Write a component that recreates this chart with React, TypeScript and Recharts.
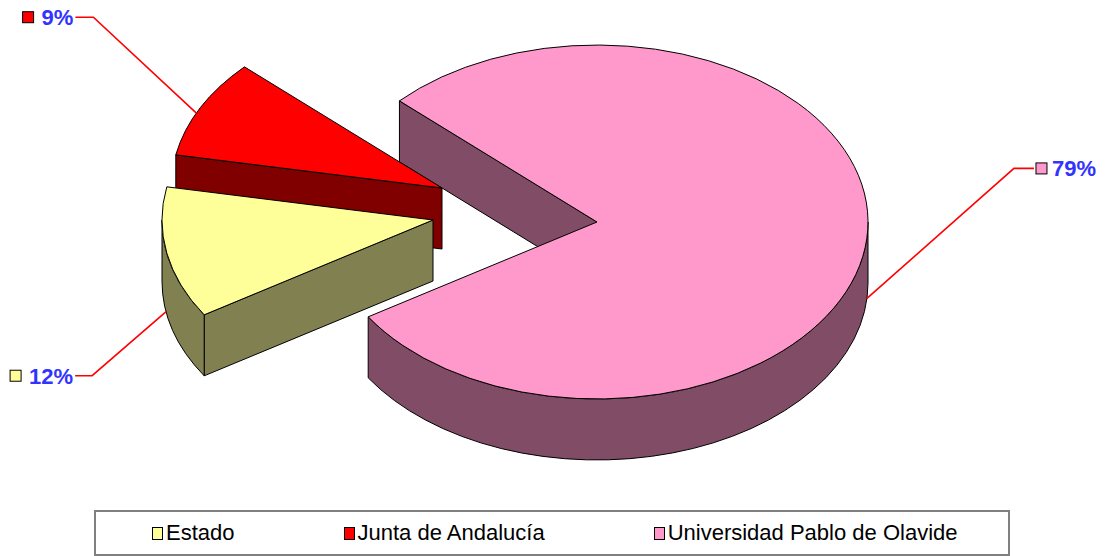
import React from 'react';
import { PieChart, Pie, Legend } from 'recharts';

// ---- data ----
const categories = ['Universidad Pablo de Olavide', 'Junta de Andalucía', 'Estado'];
const shares = [79, 9, 12];
const legendOrder = ['Estado', 'Junta de Andalucía', 'Universidad Pablo de Olavide'];

// ---- styles ----
const TOP_COLORS: Record<string, string> = {
  'Estado': '#FFFF99',
  'Junta de Andalucía': '#FF0000',
  'Universidad Pablo de Olavide': '#FF99CC',
};
const SIDE_COLORS: Record<string, string> = {
  'Estado': '#808050',
  'Junta de Andalucía': '#800000',
  'Universidad Pablo de Olavide': '#804C66',
};
// explode offsets of slices (px)
const EXPLODE: Record<string, [number, number]> = {
  'Estado': [-164, -2],
  'Junta de Andalucía': [-155, -34],
  'Universidad Pablo de Olavide': [0, 0],
};
// label leader config: anchor angle on slice, depth fraction, elbow offset, end offset, side
const LABELS: Record<string, { angle: number; depth: number; elbow: [number, number]; end: [number, number]; side: 'left' | 'right' }> = {
  'Estado': { angle: 190, depth: 1, elbow: [-74, 64], end: [-91, 64], side: 'left' },
  'Junta de Andalucía': { angle: 155, depth: 0, elbow: [-103, -96], end: [-121, -96], side: 'left' },
  'Universidad Pablo de Olavide': { angle: -5, depth: 1, elbow: [147, -130], end: [167, -130], side: 'right' },
};
const TILT = 0.653;
const DEPTH = 61;
const RAD = Math.PI / 180;
const FONT = "Arial, 'Liberation Sans', sans-serif";
const LABEL_SIZE = 22;

const data = categories.map((name, i) => ({ name, value: shares[i] }));

const geom = (props: any) => {
  const { cx, cy, outerRadius } = props;
  const name = props.name ?? props.payload?.name;
  const [dx, dy] = EXPLODE[name] || [0, 0];
  const ox = cx + dx;
  const oy = cy + dy;
  const R = outerRadius;
  const ry = R * TILT;
  const P = (deg: number, depth = 0): [number, number] => [
    ox + R * Math.cos(deg * RAD),
    oy - ry * Math.sin(deg * RAD) + depth,
  ];
  return { name, ox, oy, R, ry, P };
};

const fmt = (p: [number, number]) => `${p[0].toFixed(2)},${p[1].toFixed(2)}`;

const Slice3D = (props: any) => {
  const { startAngle, endAngle } = props;
  const { name, ox, oy, R, ry, P } = geom(props);
  const s = Math.min(startAngle, endAngle);
  const e = Math.max(startAngle, endAngle);
  const O: [number, number] = [ox, oy];
  const Od: [number, number] = [ox, oy + DEPTH];
  const faces: string[] = [];
  if (Math.cos(s * RAD) > 0) {
    faces.push(`M${fmt(O)} L${fmt(P(s))} L${fmt(P(s, DEPTH))} L${fmt(Od)} Z`);
  }
  if (Math.cos(e * RAD) < 0) {
    faces.push(`M${fmt(O)} L${fmt(P(e))} L${fmt(P(e, DEPTH))} L${fmt(Od)} Z`);
  }
  for (let n = -2; n <= 2; n++) {
    const a = Math.max(s, 180 + 360 * n);
    const b = Math.min(e, 360 + 360 * n);
    if (b > a) {
      faces.push(
        `M${fmt(P(a))} A${R},${ry} 0 0 0 ${fmt(P(b))} L${fmt(P(b, DEPTH))} A${R},${ry} 0 0 1 ${fmt(P(a, DEPTH))} Z`
      );
    }
  }
  const large = e - s > 180 ? 1 : 0;
  const top = `M${fmt(O)} L${fmt(P(s))} A${R},${ry} 0 ${large} 0 ${fmt(P(e))} Z`;
  const side = SIDE_COLORS[name];
  const topC = TOP_COLORS[name];
  return (
    <g>
      {faces.map((d, i) => (
        <path key={i} d={d} fill={side} stroke="#000" strokeWidth={1} strokeLinejoin="round" />
      ))}
      <path d={top} fill={topC} stroke="#000" strokeWidth={1} strokeLinejoin="round" />
    </g>
  );
};

const renderLabel = (props: any) => {
  const { name, P } = geom(props);
  const cfg = LABELS[name];
  if (!cfg) return null;
  const a = P(cfg.angle, cfg.depth * DEPTH);
  const el: [number, number] = [a[0] + cfg.elbow[0], a[1] + cfg.elbow[1]];
  const en: [number, number] = [a[0] + cfg.end[0], a[1] + cfg.end[1]];
  const txt = `${Math.round(props.percent * 100)}%`;
  const digits = txt.length - 1;
  const tw = LABEL_SIZE * (0.556 * digits + 0.889);
  const sq = 11;
  let sqX: number, txX: number;
  if (cfg.side === 'left') {
    txX = en[0] - 2 - tw;
    sqX = txX - 8 - sq;
  } else {
    sqX = en[0] + 2;
    txX = sqX + sq + 5;
  }
  return (
    <g>
      <polyline
        points={`${fmt(a)} ${fmt(el)} ${fmt(en)}`}
        fill="none"
        stroke="#FF0000"
        strokeWidth={1.6}
      />
      <rect x={sqX} y={en[1] - sq / 2} width={sq} height={sq} fill={TOP_COLORS[name]} stroke="#000" strokeWidth={1} />
      <text
        x={txX}
        y={en[1] + 8}
        fill="#3333FF"
        fontFamily={FONT}
        fontWeight="bold"
        fontSize={LABEL_SIZE}
        textAnchor="start"
      >
        {txt}
      </text>
    </g>
  );
};

const LegendBox = () => (
  <div
    style={{
      boxSizing: 'border-box',
      width: 916,
      height: 46,
      border: '2px solid #808080',
      background: '#fff',
      display: 'flex',
      alignItems: 'center',
      justifyContent: 'flex-start',
      paddingLeft: 56,
      gap: 109,
      fontFamily: FONT,
      fontSize: 22,
      color: '#000',
    }}
  >
    {legendOrder.map((n) => (
      <div key={n} style={{ display: 'flex', alignItems: 'center' }}>
        <span
          style={{
            display: 'inline-block',
            width: 9,
            height: 11,
            background: TOP_COLORS[n],
            border: '1px solid #000',
            marginRight: 3,
          }}
        />
        <span>{n}</span>
      </div>
    ))}
  </div>
);

export default function App() {
  return (
    <div style={{ position: 'absolute', left: 0, top: 0, width: 1105, height: 556, background: '#fff' }}>
      <PieChart width={1105} height={556} margin={{ top: 0, right: 0, bottom: 0, left: 0 }}>
        <Pie
          data={data}
          dataKey="value"
          nameKey="name"
          cx={597}
          cy={222}
          innerRadius={0}
          outerRadius={271}
          startAngle={-147.6}
          endAngle={212.4}
          paddingAngle={0}
          isAnimationActive={false}
          shape={Slice3D}
          inactiveShape={Slice3D}
          activeShape={Slice3D}
          label={renderLabel}
          labelLine={false}
        />
        <Legend
          content={() => <LegendBox />}
          wrapperStyle={{ left: 94, top: 510, width: 916, height: 46 }}
        />
      </PieChart>
    </div>
  );
}
